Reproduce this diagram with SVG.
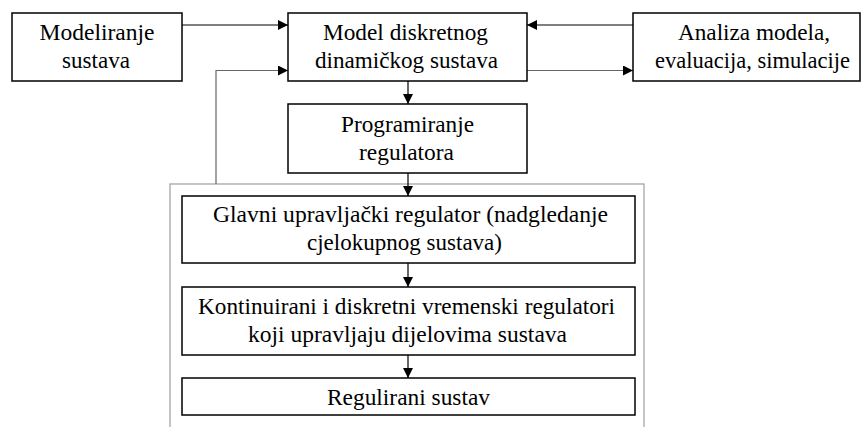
<svg xmlns="http://www.w3.org/2000/svg" width="861" height="427" viewBox="0 0 861 427">
<defs>
<marker id="ah" markerWidth="10" markerHeight="10" refX="10" refY="5" orient="auto" markerUnits="userSpaceOnUse">
<path d="M0,0 L10,5 L0,10 z" fill="#000"/>
</marker>
<style>
.box{fill:#fff;stroke:#000;stroke-width:1.5}
.t{font-family:"Liberation Serif","Times New Roman",serif;font-size:23px;fill:#000;text-anchor:middle}
.c{fill:none;stroke:#000;stroke-width:1.2}
.g{fill:none;stroke:#666;stroke-width:1.2}
</style>
</defs>
<rect width="861" height="427" fill="#fff"/>
<rect id="container" x="170" y="184" width="474" height="260" fill="none" stroke="#a6a6a6" stroke-width="1.3"/>
<g id="connectors">
<path class="c" d="M182,25 H288" marker-end="url(#ah)"/>
<path class="g" d="M216,184 V70.5 H288" marker-end="url(#ah)"/>
<path class="c" d="M633,25 H527" marker-end="url(#ah)"/>
<path class="g" d="M527,70.5 H633" marker-end="url(#ah)"/>
<path class="c" d="M408,81 V104" marker-end="url(#ah)"/>
<path class="c" d="M408,173 V196" marker-end="url(#ah)"/>
<path class="c" d="M408,263 V287" marker-end="url(#ah)"/>
<path class="c" d="M408,355 V378" marker-end="url(#ah)"/>
</g>
<g id="n1">
<rect class="box" x="12" y="13" width="170" height="68"/>
<text class="t" x="97" y="40" textLength="115" lengthAdjust="spacingAndGlyphs">Modeliranje</text>
<text class="t" x="96" y="68" textLength="68" lengthAdjust="spacingAndGlyphs">sustava</text>
</g>
<g id="n2">
<rect class="box" x="288" y="13" width="239" height="68"/>
<text class="t" x="405.5" y="40" textLength="165" lengthAdjust="spacingAndGlyphs">Model diskretnog</text>
<text class="t" x="406.5" y="68" textLength="183" lengthAdjust="spacingAndGlyphs">dinamičkog sustava</text>
</g>
<g id="n3">
<rect class="box" x="633" y="13" width="227" height="68"/>
<text class="t" x="754" y="40" textLength="152" lengthAdjust="spacingAndGlyphs">Analiza modela,</text>
<text class="t" x="752.5" y="68" textLength="195" lengthAdjust="spacingAndGlyphs">evaluacija, simulacije</text>
</g>
<g id="n4">
<rect class="box" x="288" y="104" width="239" height="69" stroke-width="2"/>
<text class="t" x="407.5" y="131.5" textLength="133" lengthAdjust="spacingAndGlyphs">Programiranje</text>
<text class="t" x="406.5" y="159.5" textLength="95" lengthAdjust="spacingAndGlyphs">regulatora</text>
</g>
<g id="n5">
<rect class="box" x="182" y="196" width="453" height="67"/>
<text class="t" x="410.5" y="222" textLength="395" lengthAdjust="spacingAndGlyphs">Glavni upravljački regulator (nadgledanje</text>
<text class="t" x="404.5" y="250" textLength="195" lengthAdjust="spacingAndGlyphs">cjelokupnog sustava)</text>
</g>
<g id="n6">
<rect class="box" x="182" y="287" width="453" height="68"/>
<text class="t" x="406.5" y="314" textLength="417" lengthAdjust="spacingAndGlyphs">Kontinuirani i diskretni vremenski regulatori</text>
<text class="t" x="407.5" y="342" textLength="319" lengthAdjust="spacingAndGlyphs">koji upravljaju dijelovima sustava</text>
</g>
<g id="n7">
<rect class="box" x="182" y="378" width="453" height="37"/>
<text class="t" x="408.5" y="405" textLength="163" lengthAdjust="spacingAndGlyphs">Regulirani sustav</text>
</g>
</svg>
